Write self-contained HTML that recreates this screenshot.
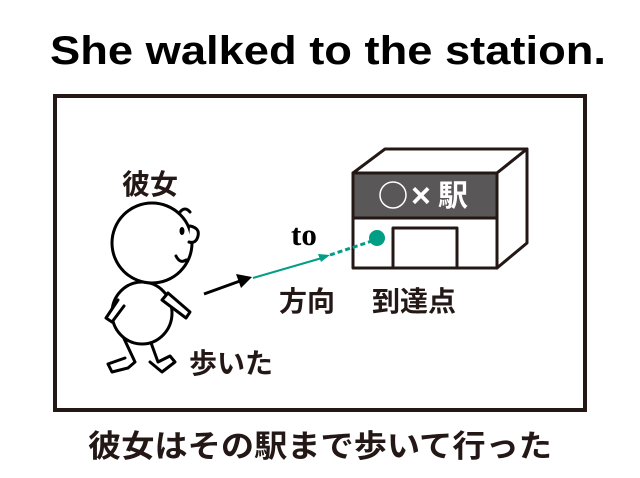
<!DOCTYPE html>
<html><head><meta charset="utf-8"><style>
html,body{margin:0;padding:0;background:#fff;width:640px;height:478px;overflow:hidden}
svg{display:block}
</style></head><body>
<svg width="640" height="478" viewBox="0 0 640 478" xmlns="http://www.w3.org/2000/svg">
<text x="50" y="64" font-family="Liberation Sans, sans-serif" font-weight="bold" font-size="40" textLength="556" lengthAdjust="spacingAndGlyphs" fill="#000">She walked to the station.</text>
<rect x="55" y="96" width="530" height="314" fill="none" stroke="#231815" stroke-width="4"/>
<text x="88" y="457" font-family="Liberation Sans, 'Noto Sans CJK JP', sans-serif" font-weight="bold" font-size="31" textLength="464" lengthAdjust="spacingAndGlyphs" fill="#231815">彼女はその駅まで歩いて行った</text>
<g stroke="#231815" stroke-width="3" stroke-linejoin="round">
<polygon points="353,173 385,149 527,149 497,173" fill="#fff"/>
<polygon points="497,173 527,149 527,243 497,268" fill="#fff"/>
<rect x="353" y="173" width="144" height="95" fill="#fff"/>
<rect x="353" y="173" width="144" height="45" fill="#595757"/>
<rect x="393" y="228" width="64" height="40" fill="#fff"/>
</g>
<circle cx="393" cy="195" r="13" fill="none" stroke="#fff" stroke-width="1.5"/>
<text x="411" y="207" font-family="Liberation Sans, 'Noto Sans CJK JP', sans-serif" font-weight="bold" font-size="34" fill="#fff">×</text>
<text x="438" y="206" font-family="Liberation Sans, 'Noto Sans CJK JP', sans-serif" font-weight="bold" font-size="30" fill="#fff">駅</text>
<line x1="204" y1="294" x2="240" y2="281" stroke="#000" stroke-width="3"/>
<polygon points="252,277 236,274 241,288" fill="#000"/>
<line x1="253" y1="278" x2="322" y2="258" stroke="#009e85" stroke-width="2"/>
<polygon points="330,255 318,254 321,262" fill="#009e85"/>
<line x1="330" y1="255" x2="372" y2="241" stroke="#009e85" stroke-width="3" stroke-dasharray="5,3"/>
<circle cx="377" cy="238" r="8" fill="#009e85"/>
<g stroke="#000" stroke-width="3" fill="#fff" stroke-linecap="round" stroke-linejoin="round">
<path d="M120,330 L135,362 L128,368 L112,372 L108,364 L125,358" />
<path d="M150,340 L158,362 L170,356 L175,362 L162,372 L150,362"/>
<ellipse cx="142" cy="313" rx="30" ry="31"/>
<path d="M118,300 L106,318 L112,322 L124,306"/>
<path d="M168,293 L190,312 L186,318 L162,300 Z"/>
<circle cx="152" cy="243" r="40"/>
<path d="M190,226 Q200,228 198,236 Q196,244 189,242"/>
<path d="M180,212 Q185,206 190,212" fill="none"/>
<path d="M176,256 Q180,264 186,260" fill="none"/>
</g>
<ellipse cx="182" cy="231" rx="2.5" ry="4" fill="#000"/>
<g font-family="Liberation Sans, 'Noto Sans CJK JP', sans-serif" font-weight="bold" font-size="28" fill="#231815">
<text x="122" y="194">彼女</text>
<text x="279" y="311">方向</text>
<text x="372" y="311">到達点</text>
<text x="189" y="373">歩いた</text>
</g>
<text x="291" y="245" font-family="Liberation Serif, serif" font-weight="bold" font-size="31" fill="#000">to</text>
</svg>
</body></html>
